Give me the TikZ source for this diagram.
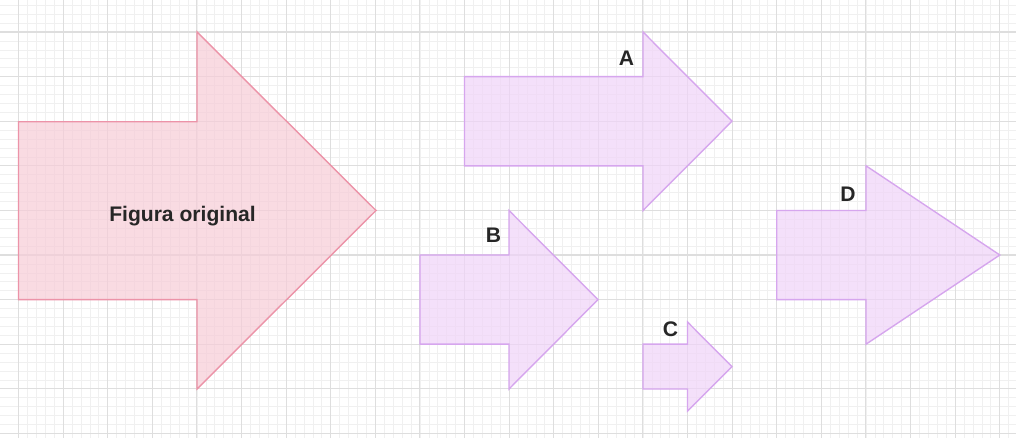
\documentclass[tikz,border=0pt]{standalone}
\usepackage{fontspec}
\setmainfont{Liberation Sans}
\definecolor{pinkfill}{HTML}{F7CCD7}
\definecolor{pinkline}{HTML}{EC93A8}
\definecolor{purplefill}{HTML}{F0D4F8}
\definecolor{purpleline}{HTML}{D6A6EE}
\definecolor{minorc}{HTML}{F0F0F0}
\definecolor{majorc}{HTML}{DEDEDE}
\begin{document}
\begin{tikzpicture}[x=0.025cm,y=-0.025cm,
  minorgrid/.style={draw=minorc, line width=0.45pt},
  majorgrid/.style={draw=majorc, line width=0.8pt},
  pinkshape/.style={draw=pinkline, fill=pinkfill, fill opacity=0.7, line width=1pt},
  purpleshape/.style={draw=purpleline, fill=purplefill, fill opacity=0.7, line width=1pt},
  lbl/.style={font=\bfseries\fontsize{15}{18}\selectfont, text=black!85, inner sep=0pt}]
\useasboundingbox (0,0) rectangle (1016,438);
\fill[white] (0,0) rectangle (1016,438);
% grid
\foreach \k in {-3,...,45} {
  \draw[minorgrid] (0,32+\k*8.92) -- (1016,32+\k*8.92);
}
\foreach \k in {0,...,112} {
  \draw[minorgrid] (18.5+\k*8.92,0) -- (18.5+\k*8.92,438);
}
\foreach \k in {-1,...,9} {
  \draw[majorgrid] (0,32+\k*44.6) -- (1016,32+\k*44.6);
}
\foreach \k in {0,...,22} {
  \draw[majorgrid] (18.5+\k*44.6,0) -- (18.5+\k*44.6,438);
}
% original
\draw[pinkshape] (18.5,121.8) -- (197,121.8) -- (197,32) -- (376,210.5) -- (197,389) -- (197,299.6) -- (18.5,299.6) -- cycle;
% A
\draw[purpleshape] (464.5,76.6) -- (643,76.6) -- (643,32) -- (732,121.2) -- (643,210.5) -- (643,165.8) -- (464.5,165.8) -- cycle;
% B
\draw[purpleshape] (420,255) -- (509,255) -- (509,210.5) -- (598,299.6) -- (509,389) -- (509,344.2) -- (420,344.2) -- cycle;
% C
\draw[purpleshape] (643,344.2) -- (687.5,344.2) -- (687.5,322) -- (732,366.6) -- (687.5,411) -- (687.5,389) -- (643,389) -- cycle;
% D
\draw[purpleshape] (776.7,210.5) -- (866,210.5) -- (866,165.8) -- (999.8,255) -- (866,344.2) -- (866,299.6) -- (776.7,299.6) -- cycle;
% labels
\node[lbl, anchor=base] (orig) at (182.5,222) {Figura original};
\node[lbl] (la) at (626.5,58.5) {A};
\node[lbl] (lb) at (493.5,235) {B};
\node[lbl] (lc) at (670.5,329.5) {C};
\node[lbl] (ld) at (848,194.5) {D};
\end{tikzpicture}
\end{document}
